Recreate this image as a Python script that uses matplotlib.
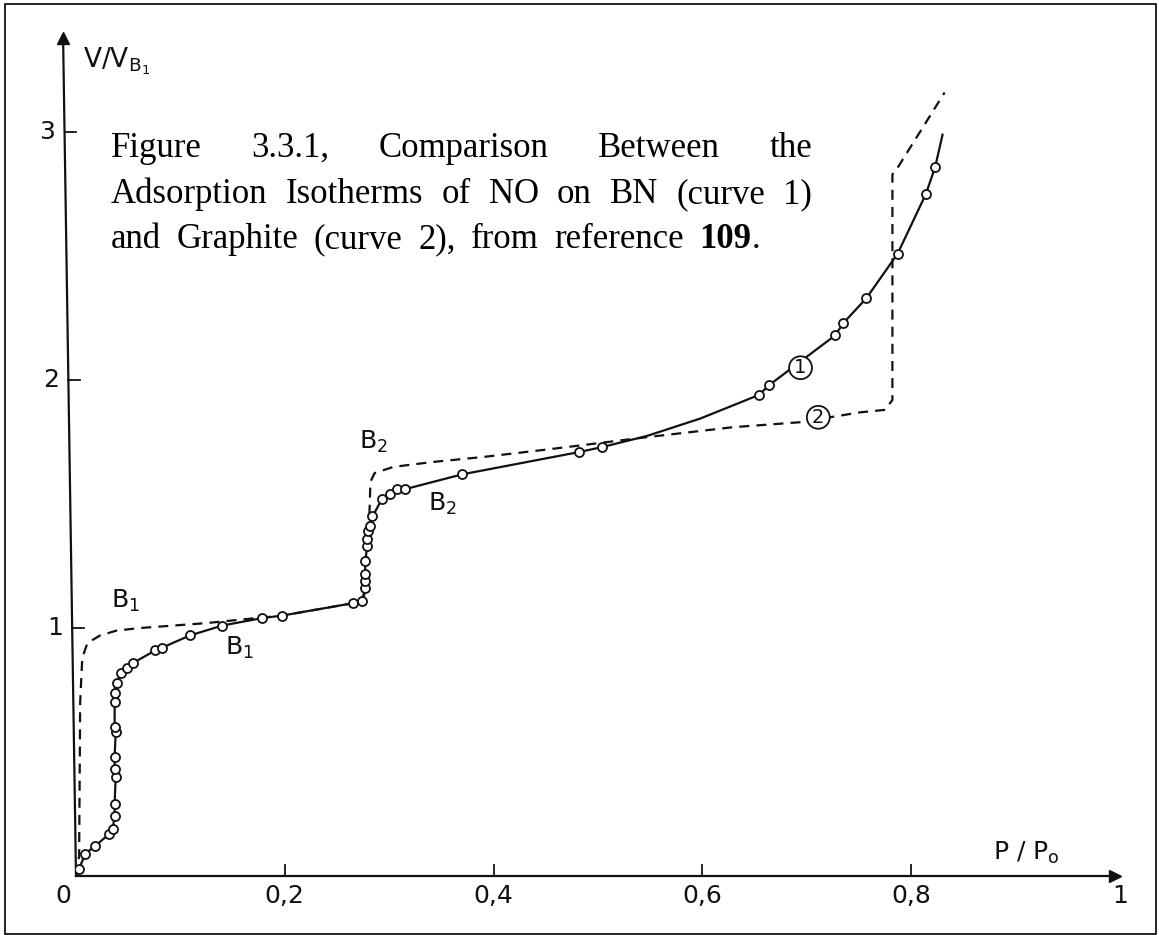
import matplotlib.pyplot as plt
from matplotlib.patches import Rectangle

W, H = 1159, 935

# curve 1: NO on BN, measured points (P/Po, V/VB1)
bn_p = [0.003, 0.009, 0.018, 0.032, 0.035, 0.037, 0.037, 0.038, 0.037, 0.037,
        0.038, 0.037, 0.037, 0.037, 0.039, 0.043, 0.049, 0.055, 0.076, 0.082,
        0.109, 0.140, 0.178, 0.197, 0.265, 0.274, 0.277, 0.277, 0.277, 0.277,
        0.279, 0.279, 0.280, 0.282, 0.284, 0.293, 0.301, 0.307, 0.315, 0.370,
        0.482, 0.504, 0.654, 0.664, 0.727, 0.735, 0.757, 0.787, 0.814, 0.823]
bn_v = [0.03, 0.09, 0.12, 0.17, 0.19, 0.24, 0.29, 0.40, 0.43, 0.48,
        0.58, 0.60, 0.70, 0.74, 0.78, 0.82, 0.84, 0.86, 0.91, 0.92,
        0.97, 1.01, 1.04, 1.05, 1.10, 1.11, 1.16, 1.19, 1.22, 1.27,
        1.33, 1.36, 1.39, 1.41, 1.45, 1.52, 1.54, 1.56, 1.56, 1.62,
        1.71, 1.73, 1.94, 1.98, 2.18, 2.23, 2.33, 2.51, 2.75, 2.86]

# drawn line of curve 1 beyond the points (start, bend, end)
bn_line_start = (0.0, 0.0)
bn_line_mid_p = [0.547, 0.598]
bn_line_mid_v = [1.775, 1.845]
bn_line_end = (0.830, 2.99)

# curve 2: NO on graphite (dashed)
gr_p = [0.0, 0.003, 0.004, 0.006, 0.011, 0.023, 0.039, 0.061, 0.093, 0.125,
        0.160, 0.197, 0.265, 0.276, 0.279, 0.281, 0.282, 0.286, 0.304, 0.342,
        0.390, 0.451, 0.547, 0.629, 0.693, 0.751, 0.775, 0.782, 0.782, 0.786,
        0.832]
gr_v = [0.0, 0.08, 0.70, 0.88, 0.94, 0.97, 0.99, 1.00, 1.01, 1.02,
        1.035, 1.05, 1.10, 1.13, 1.30, 1.45, 1.59, 1.625, 1.65, 1.67,
        1.69, 1.72, 1.77, 1.81, 1.83, 1.87, 1.88, 1.92, 2.83, 2.85,
        3.16]

x_ticks = [0.0, 0.2, 0.4, 0.6, 0.8, 1.0]
x_tick_labels = ["0", "0,2", "0,4", "0,6", "0,8", "1"]
y_ticks = [1, 2, 3]
y_tick_labels = ["1", "2", "3"]

INK = "#111111"
AXIS_TOP = 3.42
AXIS_LEAN = -0.0125   # hand-drawn y axis leans left towards the top
lettering = dict(family="DejaVu Sans", color=INK)

fig = plt.figure(figsize=(W / 100, H / 100), dpi=100)
ax = fig.add_axes([76 / W, 59 / H, 1044 / W, 843 / H])
ax.set_xlim(0, 1)
ax.set_ylim(0, 3.4)
ax.axis("off")


def yaxis_x(v):
    return AXIS_LEAN * v / AXIS_TOP


# axes drawn as arrows
ax.plot([0, 0.995], [0, 0], color=INK, lw=1.6, clip_on=False)
ax.plot(0.995, 0, marker=">", ms=9, color=INK, clip_on=False)
ax.plot([0, yaxis_x(AXIS_TOP - 0.04)], [0, AXIS_TOP - 0.04], color=INK, lw=1.6, clip_on=False)
ax.plot(yaxis_x(AXIS_TOP - 0.04), AXIS_TOP - 0.04, marker="^", ms=9, color=INK, clip_on=False)

for xt, lab in zip(x_ticks, x_tick_labels):
    if 0 < xt < 1:
        ax.plot([xt, xt], [0, 0.045], color=INK, lw=1.3)
    dx = -0.0125 if xt == 0 else 0
    ax.text(xt + dx, -0.08, lab, ha="center", va="center", fontsize=18, **lettering)

for yt, lab in zip(y_ticks, y_tick_labels):
    x0 = yaxis_x(yt)
    ax.plot([x0, x0 + 0.011], [yt, yt], color=INK, lw=1.3, clip_on=False)
    ax.text(x0 - 0.009, yt, lab, ha="right", va="center", fontsize=18, **lettering)

ax.text(0.007, 3.26, r"V/V$_{\mathrm{B}_1}$", ha="left", va="baseline", fontsize=19, **lettering)
ax.text(0.878, 0.065, r"P / P$_\mathrm{o}$", ha="left", va="baseline", fontsize=18, **lettering)

# graphite, dashed
ax.plot(gr_p, gr_v, color=INK, lw=1.6, dashes=(4.5, 3.2), zorder=2)

# BN, solid line with open circles
line_p = [bn_line_start[0]] + bn_p[:42] + bn_line_mid_p + bn_p[42:] + [bn_line_end[0]]
line_v = [bn_line_start[1]] + bn_v[:42] + bn_line_mid_v + bn_v[42:] + [bn_line_end[1]]
ax.plot(line_p, line_v, color=INK, lw=1.6, zorder=3)
ax.plot(bn_p, bn_v, ls="none", marker="o", ms=6.5, mfc="white", mec=INK, mew=1.3, zorder=4)

# curve labels
for x, y, s in [(0.047, 1.11, r"B$_1$"), (0.157, 0.92, r"B$_1$"),
                (0.285, 1.75, r"B$_2$"), (0.351, 1.50, r"B$_2$")]:
    ax.text(x, y, s, ha="center", va="center", fontsize=18, **lettering)

for x, y, s in [(0.694, 2.05, "1"), (0.711, 1.85, "2")]:
    ax.text(x, y, s, ha="center", va="center", fontsize=14, zorder=5, **lettering,
            bbox=dict(boxstyle="circle,pad=0.1", fc="white", ec=INK, lw=1.3))

# caption, words spread between the margins
cap = dict(family="Liberation Serif", size=25, color="black")
cap_lines = [
    [[("Figure", "normal")], [("3.3.1,", "normal")], [("Comparison", "normal")],
     [("Between", "normal")], [("the", "normal")]],
    [[("Adsorption", "normal")], [("Isotherms", "normal")], [("of", "normal")],
     [("NO", "normal")], [("on", "normal")], [("BN", "normal")],
     [("(curve", "normal")], [("1)", "normal")]],
    [[("and", "normal")], [("Graphite", "normal")], [("(curve", "normal")],
     [("2),", "normal")], [("from", "normal")], [("reference", "normal")],
     [("109", "bold"), (".", "normal")]],
]
left = 111
rights = [812, 812, 760]
baselines = [157, 203, 248]
renderer = fig.canvas.get_renderer()


def px_text(x, y, s, **kw):
    return fig.text(x / W, 1 - y / H, s, ha="left", va="baseline", **kw)


def width(t):
    return t.get_window_extent(renderer=renderer).width


for units, right, base in zip(cap_lines, rights, baselines):
    placed = []
    for unit in units:
        pieces = [px_text(left, base, s, weight=wt, **cap) for s, wt in unit]
        placed.append((pieces, [width(p) for p in pieces]))
    total = sum(sum(ws) for _, ws in placed)
    gap = (right - left - total) / (len(placed) - 1)
    x = left
    for pieces, ws in placed:
        for p, w in zip(pieces, ws):
            p.set_x(x / W)
            x += w
        x += gap

fig.patches.append(Rectangle((5 / W, 1 / H), 1151 / W, 930 / H, transform=fig.transFigure,
                             fill=False, ec="black", lw=1.2))

fig.savefig("out.png", dpi=100)
